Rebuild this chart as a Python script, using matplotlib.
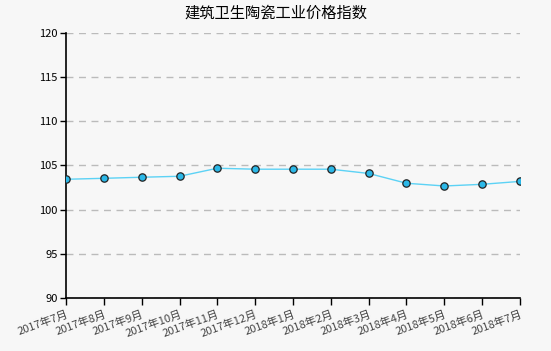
import matplotlib
matplotlib.use('Agg')
import matplotlib.pyplot as plt

plt.rcParams['font.family'] = ['Noto Sans CJK SC', 'DejaVu Sans']

months = ['2017年7月', '2017年8月', '2017年9月', '2017年10月', '2017年11月', '2017年12月',
          '2018年1月', '2018年2月', '2018年3月', '2018年4月', '2018年5月', '2018年6月', '2018年7月']
values = [103.44, 103.55, 103.67, 103.78, 104.69, 104.58, 104.58, 104.58,
          104.1, 102.99, 102.68, 102.87, 103.2]
yticks = [90, 95, 100, 105, 110, 115, 120]

bg = '#f7f7f7'
fig = plt.figure(figsize=(5.51, 3.51), dpi=100, facecolor=bg)
ax = fig.add_axes([0.1198, 0.151, 0.8239, 0.755], facecolor=bg)

x = list(range(len(months)))
ax.plot(x, values, color='#5cd2f5', lw=1, zorder=3)
ax.scatter(x, values, s=28, color='#2bb8e8', edgecolor='#222222', linewidth=0.9, zorder=4)

ax.set_xlim(0, len(months) - 1)
ax.set_ylim(90, 120)
ax.set_yticks(yticks)
ax.set_xticks(x)
ax.set_xticklabels(months, rotation=20, ha='right', rotation_mode='anchor',
                   color='#444444', fontsize=8)
ax.tick_params(axis='y', labelsize=8, length=4, width=1, pad=2)
ax.tick_params(axis='x', length=5, width=1, pad=3)

# dashed horizontal grid only
ax.grid(True, axis='y', color='#bbbbbb', linestyle=(0, (5, 4)), lw=1)
ax.set_axisbelow(True)

ax.spines['top'].set_visible(False)
ax.spines['right'].set_visible(False)
ax.spines['left'].set_linewidth(1.2)
ax.spines['bottom'].set_linewidth(1.2)

fig.text(0.5, 0.962, '建筑卫生陶瓷工业价格指数', ha='center', va='center', fontsize=11)

fig.savefig('out.png', dpi=100, facecolor=bg)
